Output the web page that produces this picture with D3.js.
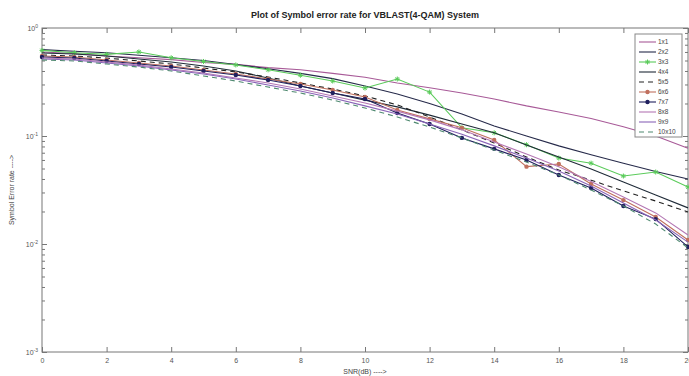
<!DOCTYPE html>
<html>
<head>
<meta charset="utf-8">
<script src="https://cdn.jsdelivr.net/npm/d3@7"></script>
<style>
  body { margin: 0; background: #fff; }
  svg { display: block; font-family: "Liberation Sans", Arial, sans-serif; }
  .axis path, .axis line { stroke: #777; }
  .axis text { fill: #555; font-size: 7px; }
</style>
</head>
<body>
<div id="chart"></div>
<script>
const snr = d3.range(0, 21);

const ser1x1 = [0.60, 0.58, 0.55, 0.53, 0.51, 0.48, 0.46, 0.43, 0.41, 0.38, 0.35, 0.31, 0.28, 0.25, 0.22, 0.19, 0.167, 0.145, 0.122, 0.10, 0.077];
const ser2x2 = [0.63, 0.61, 0.59, 0.56, 0.53, 0.50, 0.46, 0.42, 0.38, 0.34, 0.29, 0.245, 0.20, 0.16, 0.124, 0.10, 0.081, 0.067, 0.056, 0.047, 0.040];
const ser3x3 = [0.62, 0.59, 0.57, 0.60, 0.53, 0.49, 0.455, 0.41, 0.365, 0.323, 0.278, 0.337, 0.255, 0.119, 0.107, 0.083, 0.0625, 0.056, 0.0426, 0.0464, 0.0337];
const ser4x4 = [0.587, 0.574, 0.551, 0.516, 0.484, 0.445, 0.400, 0.344, 0.290, 0.250, 0.215, 0.186, 0.156, 0.129, 0.107, 0.0826, 0.064, 0.0495, 0.0375, 0.0284, 0.0216];
const ser5x5 = [0.562, 0.551, 0.527, 0.495, 0.464, 0.426, 0.392, 0.352, 0.310, 0.272, 0.235, 0.194, 0.150, 0.114, 0.086, 0.064, 0.0484, 0.039, 0.031, 0.025, 0.0198];
const ser6x6 = [0.551, 0.539, 0.506, 0.474, 0.445, 0.409, 0.375, 0.337, 0.303, 0.267, 0.230, 0.174, 0.144, 0.119, 0.092, 0.052, 0.055, 0.036, 0.0255, 0.0178, 0.0109];
const ser7x7 = [0.539, 0.527, 0.495, 0.464, 0.435, 0.400, 0.367, 0.330, 0.290, 0.250, 0.220, 0.163, 0.129, 0.096, 0.076, 0.060, 0.0435, 0.033, 0.0225, 0.0170, 0.0094];
const ser8x8 = [0.527, 0.516, 0.484, 0.454, 0.417, 0.383, 0.344, 0.310, 0.272, 0.235, 0.202, 0.170, 0.141, 0.114, 0.088, 0.068, 0.052, 0.038, 0.0272, 0.0194, 0.0121];
const ser9x9 = [0.516, 0.506, 0.474, 0.445, 0.409, 0.375, 0.337, 0.297, 0.261, 0.225, 0.190, 0.160, 0.129, 0.104, 0.081, 0.0626, 0.0474, 0.0344, 0.024, 0.0167, 0.0104];
const ser10x10 = [0.506, 0.495, 0.464, 0.435, 0.400, 0.360, 0.323, 0.284, 0.250, 0.215, 0.182, 0.150, 0.121, 0.096, 0.074, 0.0574, 0.0435, 0.0316, 0.0225, 0.0153, 0.0092];

const seriesNames = ["1x1", "2x2", "3x3", "4x4", "5x5", "6x6", "7x7", "8x8", "9x9", "10x10"];
const seriesValues = [ser1x1, ser2x2, ser3x3, ser4x4, ser5x5, ser6x6, ser7x7, ser8x8, ser9x9, ser10x10];

const xTicks = d3.range(0, 21, 2);
const yMajor = [1e-3, 1e-2, 1e-1, 1];

// styles per series (colour, dash, marker)
const styles = [
    {color: "#a85a98", dash: null, marker: null},
    {color: "#262a4a", dash: null, marker: null},
    {color: "#5acb5a", dash: null, marker: "star"},
    {color: "#1f2b38", dash: null, marker: null},
    {color: "#222", dash: "5,4", marker: null},
    {color: "#c0705e", dash: null, marker: "dot"},
    {color: "#20205e", dash: null, marker: "dot"},
    {color: "#b477b4", dash: null, marker: null},
    {color: "#8a64b8", dash: null, marker: null},
    {color: "#4f8a70", dash: "5,4", marker: null}
];

const W = 689, H = 376;
const plot = {left: 42, right: 688, top: 28, bottom: 352};

const svg = d3.select("#chart").append("svg")
    .attr("width", W)
    .attr("height", H);

const x = d3.scaleLinear().domain([0, 20]).range([plot.left, plot.right]);
const y = d3.scaleLog().domain([1e-3, 1]).range([plot.bottom, plot.top]);

const yMinor = y.ticks().filter(v => !yMajor.includes(v));

// box
svg.append("rect")
    .attr("x", plot.left).attr("y", plot.top)
    .attr("width", plot.right - plot.left)
    .attr("height", plot.bottom - plot.top)
    .attr("fill", "#fff")
    .attr("stroke", "#777");

// x axes (bottom with labels, top ticks only)
svg.append("g")
    .attr("class", "axis")
    .attr("transform", "translate(0," + plot.bottom + ")")
    .call(d3.axisBottom(x).tickValues(xTicks).tickSize(-5).tickPadding(6).tickFormat(d3.format("d")))
    .call(g => g.select(".domain").remove());

svg.append("g")
    .attr("class", "axis")
    .attr("transform", "translate(0," + plot.top + ")")
    .call(d3.axisTop(x).tickValues(xTicks).tickSize(-5).tickFormat(""))
    .call(g => g.select(".domain").remove());

// y axes: major + minor, both sides
const yLeft = svg.append("g")
    .attr("class", "axis")
    .attr("transform", "translate(" + plot.left + ",0)")
    .call(d3.axisLeft(y).tickValues(yMajor).tickSize(-5).tickPadding(4).tickFormat(""))
    .call(g => g.select(".domain").remove());

yLeft.selectAll(".tick text")
    .each(function(d) {
        const t = d3.select(this);
        t.append("tspan").text("10");
        t.append("tspan").attr("dy", -3).attr("font-size", "5px").text(Math.round(Math.log10(d)));
    });

svg.append("g")
    .attr("class", "axis")
    .attr("transform", "translate(" + plot.left + ",0)")
    .call(d3.axisLeft(y).tickValues(yMinor).tickSize(-3).tickFormat(""))
    .call(g => g.select(".domain").remove());

svg.append("g")
    .attr("class", "axis")
    .attr("transform", "translate(" + plot.right + ",0)")
    .call(d3.axisRight(y).tickValues(yMajor).tickSize(-5).tickFormat(""))
    .call(g => g.select(".domain").remove());

svg.append("g")
    .attr("class", "axis")
    .attr("transform", "translate(" + plot.right + ",0)")
    .call(d3.axisRight(y).tickValues(yMinor).tickSize(-3).tickFormat(""))
    .call(g => g.select(".domain").remove());

// lines
const line = d3.line()
    .x((d, i) => x(snr[i]))
    .y(d => y(d));

const starPath = "M-2.5,0L2.5,0M0,-2.5L0,2.5M-1.8,-1.8L1.8,1.8M-1.8,1.8L1.8,-1.8";

function drawMarker(g, style, cx, cy) {
    if (style.marker === "star") {
        g.append("path")
            .attr("transform", "translate(" + cx + "," + cy + ")")
            .attr("d", starPath)
            .attr("stroke", style.color)
            .attr("stroke-width", 1)
            .attr("fill", "none");
    } else if (style.marker === "dot") {
        g.append("circle")
            .attr("cx", cx).attr("cy", cy)
            .attr("r", 2.2)
            .attr("fill", style.color);
    }
}

const lines = svg.append("g");
seriesValues.forEach((vals, i) => {
    const s = styles[i];
    lines.append("path")
        .datum(vals)
        .attr("fill", "none")
        .attr("stroke", s.color)
        .attr("stroke-width", 1.1)
        .attr("stroke-dasharray", s.dash)
        .attr("d", line);
    if (s.marker) {
        vals.forEach((v, j) => drawMarker(lines, s, x(snr[j]), y(v)));
    }
});

// legend
const leg = svg.append("g");
const legX = 635, legY = 34, legW = 47, rowH = 10;
leg.append("rect")
    .attr("x", legX).attr("y", legY)
    .attr("width", legW).attr("height", rowH * seriesNames.length + 3)
    .attr("fill", "#fff")
    .attr("stroke", "#888");

seriesNames.forEach((name, i) => {
    const s = styles[i];
    const cy = legY + 8 + i * rowH;
    leg.append("line")
        .attr("x1", legX + 4).attr("x2", legX + 21)
        .attr("y1", cy).attr("y2", cy)
        .attr("stroke", s.color)
        .attr("stroke-width", 1.1)
        .attr("stroke-dasharray", s.dash);
    if (s.marker) drawMarker(leg, s, legX + 12.5, cy);
    leg.append("text")
        .attr("x", legX + 23).attr("y", cy + 2.3)
        .attr("font-size", "6.5px")
        .attr("fill", "#444")
        .text(name);
});

// title and labels
svg.append("text")
    .attr("x", (plot.left + plot.right) / 2).attr("y", 18)
    .attr("text-anchor", "middle")
    .attr("font-size", "9px")
    .attr("font-weight", "bold")
    .attr("fill", "#222")
    .text("Plot of Symbol error rate for VBLAST(4-QAM) System");

svg.append("text")
    .attr("x", (plot.left + plot.right) / 2).attr("y", 374)
    .attr("text-anchor", "middle")
    .attr("font-size", "7px")
    .attr("fill", "#444")
    .text("SNR(dB) ---->");

svg.append("text")
    .attr("transform", "translate(14," + ((plot.top + plot.bottom) / 2) + ") rotate(-90)")
    .attr("text-anchor", "middle")
    .attr("font-size", "7px")
    .attr("fill", "#444")
    .text("Symbol Error rate ---->");
</script>
</body>
</html>
